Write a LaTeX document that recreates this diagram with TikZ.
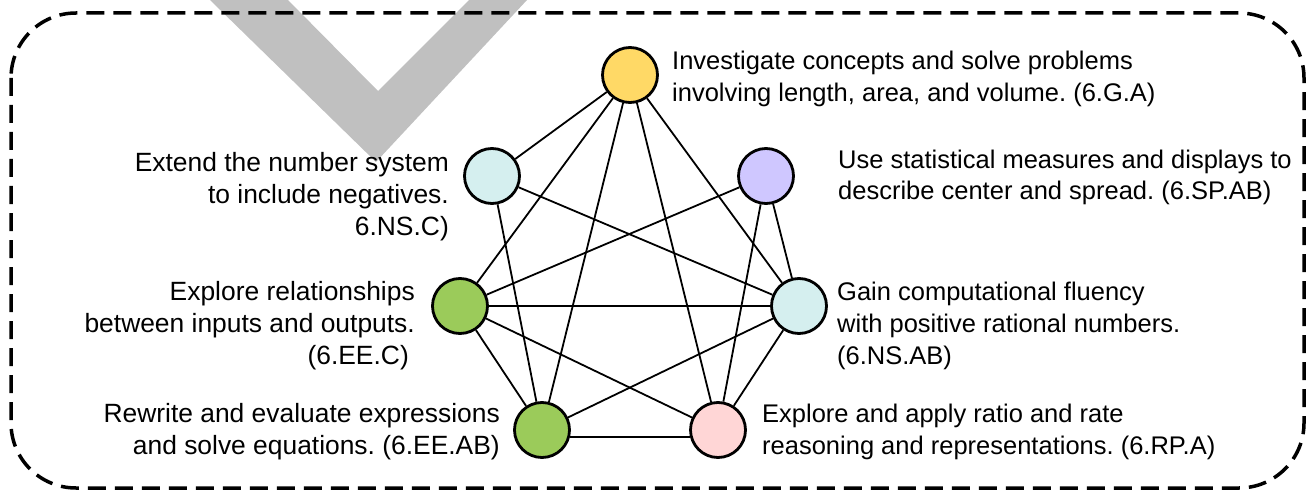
\documentclass[tikz,border=0pt]{standalone}
\usepackage{fontspec}
\setmainfont{Liberation Sans}
\frenchspacing
\definecolor{cG}{HTML}{FFD966}
\definecolor{cNS}{HTML}{D5EFEF}
\definecolor{cSP}{HTML}{CFC7FF}
\definecolor{cEE}{HTML}{9BCB5A}
\definecolor{cRP}{HTML}{FFD6D6}
\definecolor{wmgray}{HTML}{C0C0C0}
\begin{document}
\begin{tikzpicture}[x=1pt,y=-1pt,
  dot/.style={circle,draw=black,line width=2.8pt,minimum size=55pt,inner sep=0pt},
  lbl/.style={font=\fontsize{25.5}{32}\selectfont,inner sep=0pt},
  lblL/.style={font=\fontsize{26.4}{32}\selectfont,inner sep=0pt},
  edge/.style={line width=1.8pt}]
\useasboundingbox (0,0) rectangle (1307,492);
% watermark V
\fill[wmgray] (210,0) -- (288,0) -- (378,91) -- (469,0) -- (527,0) -- (376,162) -- cycle;
% dashed frame
\draw[line width=3.5pt, dash pattern=on 18pt off 9pt, rounded corners=65pt] (11,13) rectangle (1304,488);
% circles
\node[dot,fill=cG] (G) at (630,75) {};
\node[dot,fill=cNS] (NSC) at (492,176) {};
\node[dot,fill=cSP] (SP) at (766,176) {};
\node[dot,fill=cEE] (EEC) at (460,306) {};
\node[dot,fill=cNS] (NSAB) at (799,306) {};
\node[dot,fill=cEE] (EEAB) at (542,430) {};
\node[dot,fill=cRP] (RPA) at (718,430) {};
% edges
\draw[edge] (G) -- (NSC);
\draw[edge] (G) -- (EEC);
\draw[edge] (G) -- (EEAB);
\draw[edge] (G) -- (RPA);
\draw[edge] (G) -- (NSAB);
\draw[edge] (NSC) -- (EEAB);
\draw[edge] (NSC) -- (NSAB);
\draw[edge] (SP) -- (EEC);
\draw[edge] (SP) -- (RPA);
\draw[edge] (SP) -- (NSAB);
\draw[edge] (EEC) -- (NSAB);
\draw[edge] (EEC) -- (RPA);
\draw[edge] (EEC) -- (EEAB);
\draw[edge] (EEAB) -- (NSAB);
\draw[edge] (EEAB.-14) -- (RPA.194);
\draw[edge] (RPA) -- (NSAB);
% labels (anchor = baseline of the last line)
\node[lbl,anchor=base west,align=left] (tG) at (672,102) {Investigate concepts and solve problems\\involving length, area, and volume. (6.G.A)};
\node[lbl,anchor=base west,align=left] (tSP) at (838,200) {Use statistical measures and displays to\\describe center and spread. (6.SP.AB)};
\node[lblL,anchor=base east,align=right] (tNSC) at (449,235) {Extend the number system\\to include negatives.\\6.NS.C)};
\node[lblL,anchor=base east,align=right] (tEEC) at (415,364) {Explore relationships\\between inputs and outputs.\\(6.EE.C)\hspace*{6pt}};
\node[lbl,anchor=base west,align=left] (tNSAB) at (837,364) {Gain computational fluency\\with positive rational numbers.\\(6.NS.AB)};
\node[lblL,anchor=base east,align=right] (tEEAB) at (500,454) {Rewrite and evaluate expressions\\and solve equations. (6.EE.AB)};
\node[lbl,anchor=base west,align=left] (tRPA) at (762,454) {Explore and apply ratio and rate\\reasoning and representations. (6.RP.A)};
\end{tikzpicture}
\end{document}
